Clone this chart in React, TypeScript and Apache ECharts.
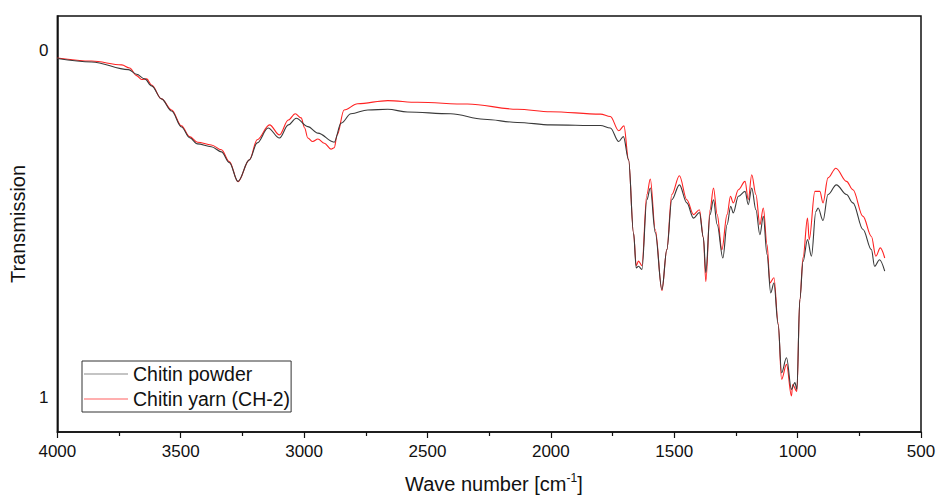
import React, { useEffect, useRef } from "react";
import * as echarts from "echarts";

const xTicks = [500, 1000, 1500, 2000, 2500, 3000, 3500, 4000];
const yLabels = [0, 1];

const powderWave = [
  4000, 3861, 3712, 3679, 3646, 3618, 3578, 3537, 3497, 3464, 3432, 3376, 3335, 3303, 3268,
  3222, 3190, 3146, 3100, 3064, 3032, 2985, 2944, 2878, 2850, 2810, 2742, 2661, 2581, 2406,
  2272, 2136, 2001, 1799, 1759, 1725, 1706, 1685, 1665, 1654, 1645, 1631, 1611, 1597, 1577,
  1550, 1530, 1510, 1479, 1449, 1422, 1398, 1382, 1372, 1355, 1341, 1326, 1303, 1286, 1271,
  1261, 1240, 1213, 1200, 1186, 1169, 1153, 1139, 1124, 1109, 1096, 1079, 1065, 1045, 1025,
  1011, 1003, 991, 978, 960, 944, 926, 917, 897, 877, 843, 802, 776, 735, 701,
  688, 668, 647,
];
const powderT = [
  0.0225, 0.0325, 0.0547, 0.068, 0.0815, 0.1016, 0.139, 0.174, 0.220, 0.251, 0.269, 0.277, 0.292, 0.323, 0.377,
  0.315, 0.266, 0.223, 0.252, 0.214, 0.195, 0.219, 0.238, 0.264, 0.209, 0.182, 0.171, 0.169, 0.177, 0.182,
  0.198, 0.207, 0.214, 0.216, 0.223, 0.262, 0.248, 0.315, 0.526, 0.627, 0.622, 0.631, 0.430, 0.396, 0.525,
  0.689, 0.574, 0.430, 0.387, 0.439, 0.483, 0.467, 0.539, 0.640, 0.473, 0.430, 0.502, 0.598, 0.502, 0.449,
  0.468, 0.420, 0.406, 0.444, 0.396, 0.459, 0.531, 0.478, 0.588, 0.699, 0.670, 0.790, 0.929, 0.886, 0.977,
  0.957, 0.977, 0.718, 0.608, 0.545, 0.593, 0.464, 0.454, 0.490, 0.415, 0.387, 0.415, 0.439, 0.516, 0.574,
  0.622, 0.603, 0.636,
];

const yarnWave = [
  4000, 3861, 3739, 3707, 3679, 3658, 3638, 3618, 3578, 3537, 3497, 3464, 3432, 3376, 3335,
  3303, 3268, 3222, 3190, 3140, 3100, 3064, 3036, 3012, 2998, 2985, 2965, 2944, 2918, 2891,
  2878, 2866, 2838, 2783, 2661, 2540, 2338, 2136, 2001, 1799, 1759, 1725, 1704, 1685, 1665,
  1654, 1645, 1631, 1611, 1597, 1577, 1550, 1530, 1510, 1479, 1449, 1422, 1398, 1382, 1372,
  1355, 1341, 1326, 1307, 1286, 1272, 1261, 1240, 1213, 1200, 1186, 1169, 1153, 1139, 1124,
  1112, 1096, 1079, 1065, 1045, 1025, 1020, 1003, 991, 978, 960, 953, 930, 910, 897,
  877, 845, 802, 776, 735, 701, 683, 665, 647,
];
const yarnT = [
  0.021, 0.030, 0.041, 0.050, 0.072, 0.083, 0.0815, 0.099, 0.139, 0.171, 0.217, 0.248, 0.264, 0.272, 0.286,
  0.320, 0.378, 0.315, 0.257, 0.214, 0.243, 0.200, 0.182, 0.194, 0.223, 0.252, 0.262, 0.255, 0.267, 0.284,
  0.280, 0.243, 0.171, 0.153, 0.144, 0.149, 0.154, 0.169, 0.176, 0.183, 0.190, 0.231, 0.217, 0.315, 0.526,
  0.620, 0.607, 0.620, 0.415, 0.370, 0.516, 0.692, 0.574, 0.415, 0.361, 0.430, 0.473, 0.459, 0.539, 0.666,
  0.459, 0.396, 0.473, 0.574, 0.473, 0.420, 0.439, 0.401, 0.377, 0.430, 0.358, 0.415, 0.502, 0.454, 0.559,
  0.670, 0.655, 0.785, 0.948, 0.905, 0.996, 0.963, 0.983, 0.718, 0.597, 0.483, 0.545, 0.406, 0.406, 0.439,
  0.367, 0.339, 0.377, 0.401, 0.478, 0.536, 0.593, 0.569, 0.598,
];

const seriesNames = ["Chitin powder", "Chitin yarn (CH-2)"];
const FONT = "Liberation Sans, Arial, sans-serif";

export default function App() {
  const ref = useRef<HTMLDivElement>(null);
  useEffect(() => {
    if (!ref.current) return;
    const chart = echarts.init(ref.current, undefined, { renderer: "svg" });
    const powder = powderWave.map((w, i) => [w, powderT[i]]);
    const yarn = yarnWave.map((w, i) => [w, yarnT[i]]);
    chart.setOption({
      animation: false,
      backgroundColor: "#fff",
      grid: {
        left: 55,
        top: 16,
        width: 866,
        height: 416,
        show: true,
        borderColor: "#111",
        borderWidth: 1.5,
        backgroundColor: "transparent",
      },
      legend: {
        left: 82,
        top: 361,
        orient: "vertical",
        icon: "rect",
        itemWidth: 44,
        itemHeight: 1.2,
        itemGap: 5,
        padding: [3, 1, 3, 2],
        borderColor: "#333",
        borderWidth: 1,
        textStyle: { fontSize: 19.5, fontFamily: FONT, color: "#111", lineHeight: 20 },
        data: [
          { name: seriesNames[0], itemStyle: { color: "#8a8a8a" } },
          { name: seriesNames[1], itemStyle: { color: "#ff6060" } },
        ],
      },
      xAxis: {
        type: "value",
        min: 500,
        max: 4000,
        interval: 500,
        inverse: true,
        axisLine: { show: true, onZero: false, lineStyle: { color: "#111", width: 1.5 } },
        axisTick: { show: true, inside: false, length: 6, lineStyle: { color: "#111", width: 1.2 } },
        minorTick: { show: true, splitNumber: 2, length: 4, lineStyle: { color: "#111", width: 1.2 } },
        splitLine: { show: false },
        axisLabel: {
          show: true,
          margin: 11,
          fontSize: 17,
          fontFamily: FONT,
          color: "#111",
          formatter: (v: number) => (xTicks.includes(v) ? String(v) : ""),
        },
      },
      yAxis: {
        type: "value",
        min: -0.1,
        max: 1.1,
        interval: 0.1,
        inverse: true,
        name: "Transmission",
        nameLocation: "middle",
        nameGap: 26,
        nameTextStyle: { fontSize: 20, fontFamily: FONT, color: "#111" },
        axisLine: { show: true, onZero: false, lineStyle: { color: "#111", width: 1.5 } },
        axisTick: { show: false },
        splitLine: { show: false },
        axisLabel: {
          show: true,
          margin: 9,
          fontSize: 17,
          fontFamily: FONT,
          color: "#111",
          formatter: (v: number) => {
            for (const l of yLabels) if (Math.abs(v - l) < 1e-6) return String(l);
            return "";
          },
        },
      },
      graphic: [
        {
          type: "text",
          left: 405,
          top: 472,
          style: {
            text: "{a|Wave number [cm}{s|-1}{a|]}",
            rich: {
              a: { fontSize: 20, fontFamily: FONT, fill: "#111", verticalAlign: "bottom", lineHeight: 22 },
              s: { fontSize: 12, fontFamily: FONT, fill: "#111", verticalAlign: "top", lineHeight: 22, padding: [0, 0, 9, 0] },
            },
          },
        },
      ],
      series: [
        {
          name: seriesNames[0],
          type: "line",
          data: powder,
          symbol: "none",
          smooth: 0.35,
          smoothMonotone: "x",
          lineStyle: { color: "#3a3a3a", width: 1.1 },
          itemStyle: { color: "#3a3a3a" },
          z: 3,
        },
        {
          name: seriesNames[1],
          type: "line",
          data: yarn,
          symbol: "none",
          smooth: 0.35,
          smoothMonotone: "x",
          lineStyle: { color: "#ff2222", width: 1.1 },
          itemStyle: { color: "#ff2222" },
          z: 2,
        },
      ],
    });
    return () => chart.dispose();
  }, []);
  return <div ref={ref} style={{ width: 939, height: 495, position: "absolute", left: 0, top: 0 }} />;
}
